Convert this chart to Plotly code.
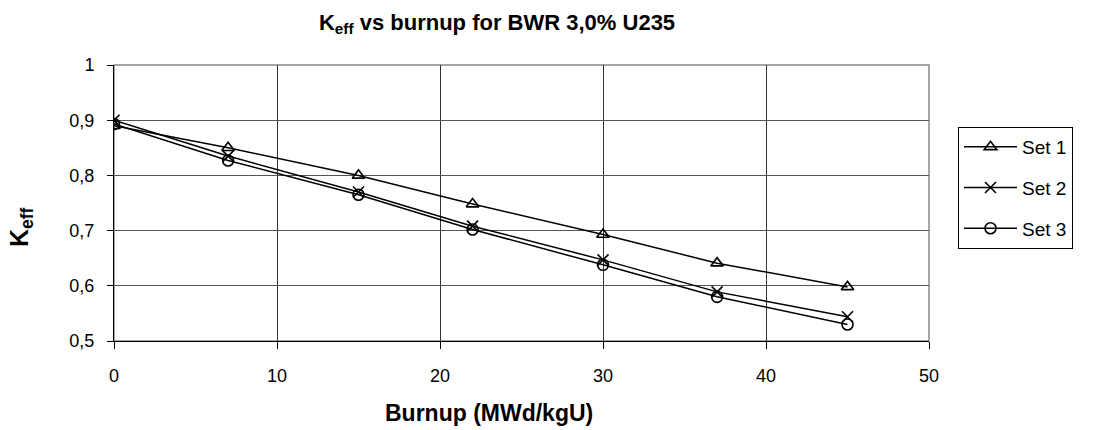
import plotly.graph_objects as go

burnup = [0, 7, 15, 22, 30, 37, 45]
set1 = [0.890, 0.850, 0.800, 0.748, 0.693, 0.641, 0.598]
set2 = [0.900, 0.835, 0.770, 0.708, 0.647, 0.589, 0.544]
set3 = [0.893, 0.827, 0.765, 0.702, 0.638, 0.580, 0.530]
series_names = ["Set 1", "Set 2", "Set 3"]
x_ticks = [0, 10, 20, 30, 40, 50]
y_ticks = [0.5, 0.6, 0.7, 0.8, 0.9, 1.0]
y_ticktext = ["0,5", "0,6", "0,7", "0,8", "0,9", "1"]

symbols = ["triangle-up-open", "x-thin-open", "circle-open"]
FONT = "Liberation Sans, Arial, sans-serif"

L, R, T, B = 114, 171, 65, 89
W, H = 1100, 430
PW, PH = W - L - R, H - T - B

fig = go.Figure()
for name, vals, sym in zip(series_names, [set1, set2, set3], symbols):
    fig.add_trace(go.Scatter(
        x=burnup, y=vals, name=name, mode="lines+markers",
        line=dict(color="black", width=1.5),
        marker=dict(symbol=sym, size=11, color="black",
                    line=dict(color="black", width=1.6)),
        legendgroup=name,
    ))

fig.update_layout(
    width=W, height=H,
    margin=dict(l=L, r=R, t=T, b=B, autoexpand=False),
    paper_bgcolor="white", plot_bgcolor="white",
    font=dict(family=FONT, size=18, color="black"),
    title=dict(text="<b>K<sub>eff</sub> vs burnup for BWR 3,0% U235</b>",
               xref="container", yref="container",
               x=497 / W, xanchor="center", y=1 - 22 / H, yanchor="middle",
               font=dict(size=22, family=FONT)),
    legend=dict(x=(958 - L) / PW, y=(H - B - 127) / PH, xanchor="left", yanchor="top",
                bordercolor="black", borderwidth=1, bgcolor="white",
                font=dict(size=19, family=FONT), tracegroupgap=13,
                itemwidth=53, valign="middle", entrywidth=160),
    showlegend=True,
)
fig.update_xaxes(
    range=[0, 50], tickvals=x_ticks, ticktext=[str(v) for v in x_ticks],
    showgrid=True, gridcolor="#333333", gridwidth=1,
    showline=True, linecolor="black", linewidth=1,
    ticks="outside", ticklen=7, tickcolor="black",
    ticklabelstandoff=11,
    zeroline=False, mirror=False,
)
fig.update_yaxes(
    range=[0.5, 1.0], tickvals=y_ticks, ticktext=y_ticktext,
    showgrid=True, gridcolor="#555555", gridwidth=1,
    showline=True, linecolor="black", linewidth=1,
    ticks="outside", ticklen=6, tickcolor="black",
    ticklabelstandoff=9,
    zeroline=False,
)
# axis titles placed where the reference has them
fig.add_annotation(text="<b>Burnup (MWd/kgU)</b>", xref="paper", yref="paper",
                   x=(489 - L) / PW, y=-(413 - (H - B)) / PH, showarrow=False,
                   xanchor="center", yanchor="middle",
                   font=dict(size=23, family=FONT))
fig.add_annotation(text="<b>K<sub>eff</sub></b>", xref="paper", yref="paper",
                   x=-(L - 21) / PW, y=(H - B - 227) / PH, showarrow=False,
                   textangle=-90, xanchor="center", yanchor="middle",
                   font=dict(size=25, family=FONT))
# gray plot-area border on top/right
fig.add_shape(type="rect", xref="paper", yref="paper", x0=0, y0=0, x1=1, y1=1,
              line=dict(color="#888888", width=1.5), layer="below")

fig.write_html("out.html")
